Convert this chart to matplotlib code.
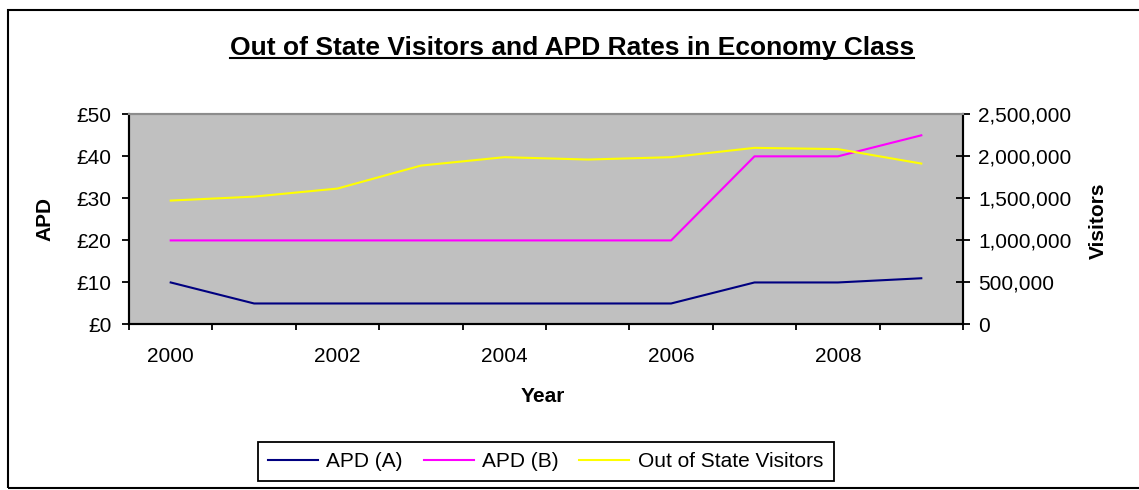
import numpy as np
import matplotlib
matplotlib.use("Agg")
import matplotlib.pyplot as plt
from matplotlib.lines import Line2D
from matplotlib.patches import Rectangle
from matplotlib.ticker import FuncFormatter

plt.rcParams['font.family'] = ['Liberation Sans', 'DejaVu Sans']

# data
years = [2000, 2001, 2002, 2003, 2004, 2005, 2006, 2007, 2008, 2009]
apd_a = [10, 5, 5, 5, 5, 5, 5, 10, 10, 11]
apd_b = [20, 20, 20, 20, 20, 20, 20, 40, 40, 45]
visitors = [1474000, 1521000, 1617000, 1890000, 1990000,
            1962000, 1990000, 2101000, 2086000, 1914000]
year_labels = ['2000', '2002', '2004', '2006', '2008']

W, H = 1139, 490
fig = plt.figure(figsize=(W / 100, H / 100), dpi=100)

# outer chart border (right edge is cropped in the reference)
fig.patches.append(Rectangle((8 / W, 1 - 488 / H), 1.2, (488 - 10) / H,
                             transform=fig.transFigure, fill=False,
                             edgecolor='black', linewidth=1.5))

ax = fig.add_axes([129 / W, 1 - 324.5 / H, (963 - 129) / W, (324.5 - 114.3) / H])
ax.set_facecolor('#C0C0C0')
ax2 = ax.twinx()

x = np.arange(len(years))
l1, = ax.plot(x, apd_a, color='#000080', lw=1.5)
l2, = ax.plot(x, apd_b, color='#FF00FF', lw=1.5)
l3, = ax2.plot(x, visitors, color='#FFFF00', lw=1.5)

ax.set_xlim(-0.5, len(years) - 0.5)
ax.set_ylim(0, 50)
ax2.set_ylim(0, 2500000)

# category boundaries get tick marks, every second year gets a label
ax.set_xticks(np.arange(len(years) + 1) - 0.5)
ax.set_xticklabels([])
ax.set_xticks(x[::2], minor=True)
ax.set_xticklabels(year_labels, minor=True)
ax.tick_params(axis='x', which='major', direction='out', length=4.5, width=1.3)
ax.tick_params(axis='x', which='minor', length=0, pad=16, labelsize=15)

ax.set_yticks(range(0, 51, 10))
ax.yaxis.set_major_formatter(FuncFormatter(lambda v, p: f'£{v:.0f}'))
ax.tick_params(axis='y', direction='out', length=5, width=1.3, pad=7.5, labelsize=15)

ax2.set_yticks(range(0, 2500001, 500000))
ax2.yaxis.set_major_formatter(FuncFormatter(lambda v, p: f'{v:,.0f}'))
ax2.tick_params(axis='y', direction='inout', length=10, width=1.3, pad=6, labelsize=15)

for a in (ax, ax2):
    a.spines['top'].set_color('#8C8C8C')
    a.spines['top'].set_linewidth(1.5)
    for s in ('left', 'right', 'bottom'):
        a.spines[s].set_linewidth(1.5)
        a.spines[s].set_color('black')

fig.text(45 / W, 1 - 219 / H, 'APD', rotation=90, ha='center', va='center',
         fontsize=15, fontweight='bold')
fig.text(1098 / W, 1 - 221 / H, 'Visitors', rotation=90, ha='center', va='center',
         fontsize=15, fontweight='bold')
fig.text(543 / W, 1 - 397 / H, 'Year', ha='center', va='center',
         fontsize=15, fontweight='bold')

title = fig.text(572 / W, 1 - 55 / H, 'Out of State Visitors and APD Rates in Economy Class',
                 ha='center', va='baseline', fontsize=19, fontweight='bold')

leg = fig.legend([l1, l2, l3], ['APD (A)', 'APD (B)', 'Out of State Visitors'],
                 loc='center', bbox_to_anchor=(545.5 / W, 1 - 461.5 / H), ncol=3,
                 fontsize=15, frameon=True, fancybox=False, edgecolor='black',
                 framealpha=1, handlelength=2.4, handletextpad=0.4,
                 columnspacing=1.0, borderpad=0.5)
leg.get_frame().set_linewidth(1.3)

# underline the title
fig.canvas.draw()
bb = title.get_window_extent()
uy = (H - 55 - 3) / H
fig.add_artist(Line2D([bb.x0 / W, bb.x1 / W], [uy, uy], transform=fig.transFigure,
                      color='black', lw=1.5))

fig.savefig('out.png', dpi=100)
